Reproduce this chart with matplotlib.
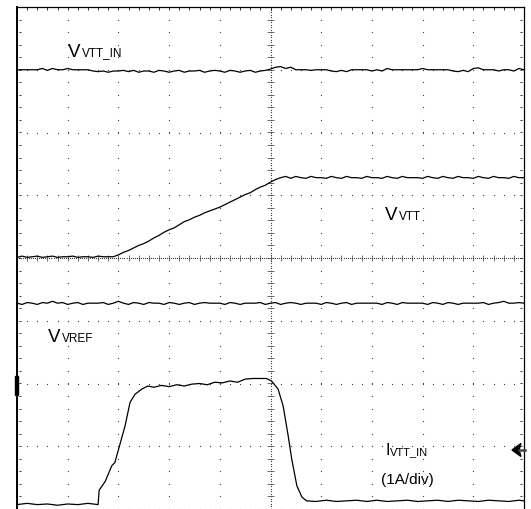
import matplotlib
matplotlib.use("Agg")
import matplotlib.pyplot as plt
import numpy as np
from matplotlib.patches import Rectangle, Polygon

plt.rcParams['font.family'] = ['Liberation Sans', 'DejaVu Sans']

# scope sample grid, 0.1 div per sample (10 div wide)
t = np.round(np.arange(0, 101) * 0.1, 2)

# V_VTT_IN channel (div)
vtt_in = [3.00, 3.00, 3.00, 3.00, 3.00, 3.02, 2.99, 3.02, 3.00, 3.00,
          3.02, 3.00, 3.00, 3.00, 3.00, 2.98, 2.97, 2.98, 2.96, 2.98,
          2.98, 2.99, 2.97, 2.99, 2.96, 2.98, 2.98, 2.96, 2.99, 2.98,
          2.96, 2.98, 2.99, 2.96, 2.98, 2.98, 2.99, 2.96, 2.98, 2.99,
          2.98, 2.96, 2.99, 2.98, 2.96, 2.98, 2.99, 2.96, 2.98, 2.99,
          3.01, 3.04, 3.05, 3.02, 3.04, 3.00, 3.00, 3.00, 2.99, 3.00,
          3.00, 3.00, 2.98, 2.97, 2.99, 2.97, 3.00, 3.00, 3.00, 3.00,
          2.98, 3.00, 2.98, 3.02, 3.00, 3.00, 3.00, 3.00, 3.00, 3.00,
          3.02, 3.00, 3.00, 3.00, 3.00, 3.00, 2.98, 2.97, 2.99, 2.97,
          3.02, 3.03, 3.00, 3.00, 3.00, 2.98, 3.00, 3.00, 2.98, 3.02,
          3.00]

# V_VTT channel (div)
vtt = [0.01, 0.03, 0.01, 0.02, 0.03, 0.01, 0.02, 0.03, 0.01, 0.02,
       0.02, 0.03, 0.01, 0.02, 0.02, 0.01, 0.03, 0.02, 0.02, 0.02,
       0.05, 0.09, 0.12, 0.16, 0.20, 0.23, 0.27, 0.32, 0.36, 0.41,
       0.45, 0.48, 0.53, 0.58, 0.61, 0.65, 0.68, 0.72, 0.75, 0.78,
       0.81, 0.85, 0.89, 0.93, 0.97, 1.01, 1.04, 1.09, 1.13, 1.16,
       1.21, 1.25, 1.28, 1.30, 1.27, 1.30, 1.28, 1.27, 1.30, 1.28,
       1.28, 1.27, 1.30, 1.28, 1.27, 1.30, 1.28, 1.28, 1.27, 1.30,
       1.28, 1.28, 1.27, 1.30, 1.28, 1.27, 1.30, 1.28, 1.28, 1.28,
       1.27, 1.30, 1.28, 1.27, 1.30, 1.28, 1.27, 1.30, 1.28, 1.28,
       1.27, 1.30, 1.28, 1.27, 1.30, 1.28, 1.28, 1.27, 1.30, 1.28,
       1.28]

# V_VREF channel (div)
vref = [-0.72, -0.74, -0.71, -0.72, -0.74, -0.71, -0.72, -0.69, -0.72, -0.71,
        -0.74, -0.72, -0.71, -0.74, -0.72, -0.72, -0.72, -0.71, -0.74, -0.72,
        -0.69, -0.72, -0.74, -0.71, -0.72, -0.74, -0.71, -0.72, -0.72, -0.74,
        -0.71, -0.72, -0.74, -0.72, -0.71, -0.74, -0.72, -0.71, -0.72, -0.72,
        -0.72, -0.74, -0.71, -0.72, -0.74, -0.72, -0.72, -0.72, -0.71, -0.74,
        -0.72, -0.71, -0.74, -0.72, -0.71, -0.72, -0.74, -0.72, -0.72, -0.72,
        -0.74, -0.71, -0.72, -0.74, -0.72, -0.71, -0.74, -0.72, -0.72, -0.72,
        -0.72, -0.72, -0.74, -0.71, -0.72, -0.74, -0.71, -0.72, -0.72, -0.72,
        -0.72, -0.74, -0.71, -0.72, -0.74, -0.71, -0.72, -0.74, -0.72, -0.72,
        -0.72, -0.72, -0.71, -0.74, -0.72, -0.71, -0.69, -0.72, -0.72, -0.71,
        -0.72]

# I_VTT_IN channel (1A/div)
i_t = [0.0, 0.2, 0.4, 0.6, 0.8, 1.0, 1.2, 1.4, 1.60,
       1.62, 1.74, 1.87, 1.93, 2.03, 2.13, 2.23, 2.33, 2.46, 2.58,
       2.70, 2.85, 3.00, 3.15, 3.30, 3.45, 3.60, 3.75, 3.90, 4.05,
       4.20, 4.35, 4.50, 4.65, 4.80, 4.92, 5.02, 5.15, 5.25, 5.35,
       5.42, 5.52, 5.62, 5.71, 5.90, 6.10, 6.30, 6.50, 6.70, 6.90,
       7.10, 7.30, 7.50, 7.70, 7.90, 8.10, 8.30, 8.50, 8.70, 8.90,
       9.10, 9.30, 9.50, 9.70, 9.90, 10.0]
i_vtt_in = [-3.93, -3.91, -3.93, -3.92, -3.94, -3.92, -3.93, -3.91, -3.93,
            -3.70, -3.56, -3.31, -3.26, -2.97, -2.68, -2.30, -2.17, -2.09, -2.04,
            -2.06, -2.03, -2.05, -2.02, -2.04, -2.01, -2.00, -2.02, -1.98, -1.99,
            -1.96, -1.98, -1.93, -1.92, -1.92, -1.92, -1.96, -2.09, -2.36, -2.84,
            -3.21, -3.63, -3.81, -3.87, -3.88, -3.86, -3.88, -3.87, -3.86, -3.88,
            -3.86, -3.88, -3.87, -3.86, -3.88, -3.87, -3.86, -3.88, -3.86, -3.87,
            -3.88, -3.86, -3.87, -3.88, -3.86, -3.87]

fig = plt.figure(figsize=(5.31, 5.09), dpi=100)
ax = fig.add_axes([17 / 531, 0.0, 507 / 531, 502 / 509])
ax.set_xlim(0, 10)
ax.set_ylim(-4, 4)
ax.set_xticks([])
ax.set_yticks([])
for side in ['top', 'right']:
    ax.spines[side].set_linewidth(0.9)
ax.spines['left'].set_linewidth(1.4)
ax.spines['bottom'].set_visible(False)

# dotted graticule
dot = dict(ls='none', marker='s', ms=0.8, mew=0, color='#444444')
minor_y = np.arange(-4, 4.01, 0.2)
minor_x = np.arange(0, 10.01, 0.2)
for k in range(11):
    ax.plot(np.full_like(minor_y, k), minor_y, **dot)
for j in range(-4, 5):
    ax.plot(minor_x, np.full_like(minor_x, j), **dot)
dense_y = np.arange(-4, 4.01, 0.04)
dense_x = np.arange(0, 10.01, 0.04)
ax.plot(np.full_like(dense_y, 5), dense_y, **dot)
ax.plot(dense_x, np.zeros_like(dense_x), **dot)
ax.hlines(minor_y, 4.93, 5.07, color='#555555', lw=0.6)
ax.vlines(minor_x, -0.05, 0.05, color='#555555', lw=0.6)
# border ticks
ax.vlines(minor_x, 3.95, 4.0, color='#333333', lw=0.7)
ax.hlines(minor_y, 0.03, 0.07, color='#333333', lw=0.7)
ax.hlines(minor_y, 9.93, 9.97, color='#333333', lw=0.7)

# traces
tr = dict(color='black', lw=0.9)
ax.plot(t, vtt_in, **tr)
ax.plot(t, vtt, **tr)
ax.plot(t, vref, **tr)
ax.plot(i_t, i_vtt_in, **tr)

# labels
def label(x, y, main, sub, size=13.5, subsize=8.5, gap=0.27):
    ax.text(x, y, main, fontsize=size, ha='left', va='baseline')
    ax.text(x + gap, y, sub, fontsize=subsize, ha='left', va='baseline')

label(1.01, 3.21, 'V', 'VTT_IN')
label(7.26, 0.60, 'V', 'VTT')
label(0.61, -1.34, 'V', 'VREF')
label(7.26, -3.14, 'I', 'VTT_IN', size=11.5, subsize=8, gap=0.09)
ax.text(7.18, -3.60, '(1A/div)', fontsize=11, ha='left', va='baseline')

# channel markers
fig.add_artist(Rectangle((15 / 531, 1 - 395 / 509), 2.5 / 531, 19 / 509,
                         transform=fig.transFigure, color='black'))
fig.add_artist(Polygon([(512 / 531, 1 - 450 / 509), (521 / 531, 1 - 443.5 / 509),
                        (519 / 531, 1 - 450 / 509), (521 / 531, 1 - 456.5 / 509)],
                       closed=True, transform=fig.transFigure, color='black'))
fig.add_artist(plt.Line2D([519 / 531, 525 / 531], [1 - 450 / 509, 1 - 450 / 509],
                          transform=fig.transFigure, color='#444444', lw=1.8))

fig.savefig('out.png', dpi=100)
